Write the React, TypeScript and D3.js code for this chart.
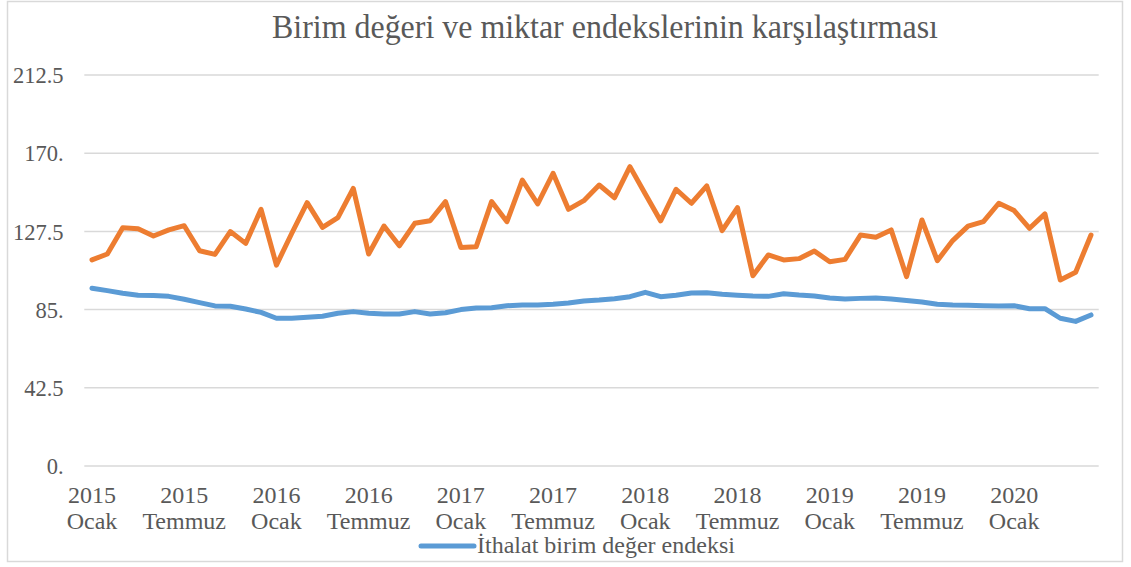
import React from "react";
import * as d3 from "d3";

const years = ["2015", "2016", "2017", "2018", "2019", "2020"];
const monthNames = ["Ocak", "Şubat", "Mart", "Nisan", "Mayıs", "Haziran", "Temmuz", "Ağustos", "Eylül", "Ekim", "Kasım", "Aralık"];
const monthCount = 66;
const categories: { year: string; month: string }[] = [];
for (let i = 0; i < monthCount; i++) {
  categories.push({ year: years[Math.floor(i / 12)], month: monthNames[i % 12] });
}

const unitValueIndex = [
  96.6, 95.3, 93.9, 92.8, 92.6, 92.2, 90.6, 88.8, 87.0, 86.8, 85.3, 83.5,
  80.3, 80.3, 80.8, 81.4, 83.0, 83.9, 83.0, 82.6, 82.6, 83.9, 82.6, 83.3,
  85.0, 85.9, 86.0, 87.1, 87.5, 87.5, 87.9, 88.6, 89.7, 90.2, 90.9, 92.0,
  94.4, 92.0, 92.8, 94.0, 94.2, 93.3, 92.8, 92.4, 92.2, 93.6, 92.9, 92.4,
  91.3, 90.8, 91.1, 91.3, 90.7, 89.9, 89.1, 87.9, 87.5, 87.3, 87.1, 87.0,
  87.1, 85.5, 85.5, 80.3, 78.6, 82.1,
];

const quantityIndex = [
  112.0, 115.2, 129.5, 129.0, 125.0, 128.3, 130.6, 117.0, 115.0, 127.4, 121.0, 139.5,
  109.2, 126.5, 143.1, 129.7, 135.0, 150.9, 115.2, 130.4, 119.7, 131.9, 133.3, 143.7,
  118.8, 119.2, 143.7, 132.8, 155.4, 142.4, 159.1, 139.5, 144.2, 152.7, 145.8, 162.7,
  147.8, 133.2, 150.4, 142.8, 152.2, 127.9, 140.4, 103.4, 114.7, 112.0, 112.7, 116.8,
  111.0, 112.3, 125.5, 124.3, 128.3, 102.9, 133.7, 111.6, 122.5, 130.4, 132.8, 142.8,
  138.8, 129.2, 137.0, 101.1, 105.3, 125.5,
];

const yTicks = [0, 42.5, 85, 127.5, 170, 212.5];
const yTickLabels = ["0.", "42.5", "85.", "127.5", "170.", "212.5"];

const title = "Birim değeri ve miktar endekslerinin karşılaştırması";
const legendLabel = "İthalat birim değer endeksi";

const W = 1131;
const H = 567;
const FONT = "'Liberation Serif', 'Times New Roman', serif";
const TEXT = "#595959";

export default function App() {
  const x = d3
    .scalePoint<number>()
    .domain(d3.range(monthCount))
    .range([84.3, 1098.7])
    .padding(0.5);
  const y = d3.scaleLinear().domain([0, 212.5]).range([466, 75]);

  const line = d3
    .line<number>()
    .x((_, i) => x(i) as number)
    .y((d) => y(d));

  return (
    <svg width={W} height={H} style={{ position: "absolute", left: 0, top: 0, background: "#fff" }}>
      <rect x={7.5} y={1.5} width={1115} height={560} fill="#fff" stroke="#d9d9d9" strokeWidth={1.5} />
      <text x={605} y={38} textAnchor="middle" fontFamily={FONT} fontSize={34} fill={TEXT} textLength={666} lengthAdjust="spacingAndGlyphs">
        {title}
      </text>
      {yTicks.map((t, i) => (
        <g key={t}>
          <line x1={84.3} x2={1098.7} y1={y(t)} y2={y(t)} stroke="#d9d9d9" strokeWidth={1.5} />
          <text x={63.5} y={y(t)} dy="0.36em" textAnchor="end" fontFamily={FONT} fontSize={22.5} fill={TEXT}>
            {yTickLabels[i]}
          </text>
        </g>
      ))}
      {categories.map((c, i) =>
        i % 6 === 0 ? (
          <g key={i}>
            <text x={x(i)} y={502.7} textAnchor="middle" fontFamily={FONT} fontSize={24} fill={TEXT}>
              {c.year}
            </text>
            <text x={x(i)} y={529.3} textAnchor="middle" fontFamily={FONT} fontSize={24} fill={TEXT}>
              {c.month}
            </text>
          </g>
        ) : null
      )}
      <path d={line(quantityIndex) || ""} fill="none" stroke="#ED7D31" strokeWidth={5} strokeLinejoin="round" strokeLinecap="round" />
      <path d={line(unitValueIndex) || ""} fill="none" stroke="#5B9BD5" strokeWidth={5} strokeLinejoin="round" strokeLinecap="round" />
      <line x1={421} x2={474} y1={546} y2={546} stroke="#5B9BD5" strokeWidth={5} strokeLinecap="round" />
      <text x={477} y={553} fontFamily={FONT} fontSize={24} fill={TEXT}>
        {legendLabel}
      </text>
    </svg>
  );
}
